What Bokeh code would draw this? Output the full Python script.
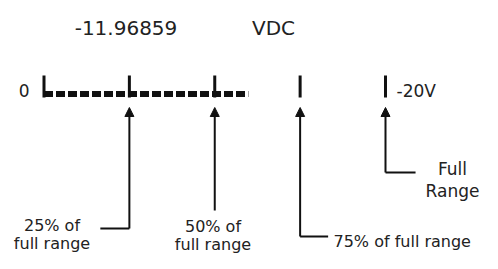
from bokeh.plotting import figure
from bokeh.models import ColumnDataSource, Range1d, Arrow, NormalHead
from bokeh.core.properties import value
from bokeh.embed import file_html
from bokeh.resources import INLINE

# ---- data ----
reading = -11.96859
unit = "VDC"
full_scale = -20.0
zero_label = "0"
full_label = "-20V"
mark_pct = [0, 25, 50, 75, 100]
callout_pct = [25, 50, 75, 100]
callout_line1 = ["25% of", "50% of", "75% of full range", "Full"]
callout_line2 = ["full range", "full range", "", "Range"]

# ---- layout (pixels / styles) ----
W, H = 482, 253
PX = 3.415            # pixels per percent
X0 = 43.5             # pixels from left edge to 0 %
FONT = value("DejaVu Sans")
TXT = "#222222"
INK = "#111111"

def sx(px):
    """pixel x -> percent coordinate"""
    return (px - X0) / PX

p = figure(width=W, height=H, output_backend="svg", toolbar_location=None,
           x_range=Range1d(-X0 / PX, (W - X0) / PX), y_range=Range1d(H, 0),
           x_axis_type=None, y_axis_type=None, min_border=0)
p.outline_line_color = None
p.xgrid.visible = False
p.ygrid.visible = False
p.background_fill_color = "white"
p.border_fill_color = "white"

bar_end = reading / full_scale * 100

# bar (dashed) and marks
p.segment(x0=[mark_pct[0]], x1=[bar_end], y0=[93.5], y1=[93.5],
          line_width=6, line_dash="9 3", line_color=INK, line_cap="butt")
p.segment(x0=mark_pct, x1=mark_pct, y0=[75] * len(mark_pct), y1=[97] * len(mark_pct),
          line_width=3, line_color=INK)

# reading text
p.text(x=[sx(125.5)], y=[27], text=[f"{reading:.5f}"], text_font=FONT,
       text_font_size="20px", text_align="center", text_baseline="alphabetic", text_color=TXT)
p.text(x=[sx(273)], y=[27], text=[unit], text_font=FONT,
       text_font_size="20px", text_align="center", text_baseline="alphabetic", text_color=TXT)

# scale end labels
p.text(x=[sx(29)], y=[90], text=[zero_label], text_font=FONT, text_font_size="17px",
       text_align="right", text_baseline="alphabetic", text_color=TXT)
p.text(x=[sx(396)], y=[90], text=[full_label], text_font=FONT, text_font_size="17px",
       text_align="left", text_baseline="alphabetic", text_color=TXT)

# callout arrows
bottoms = [228, 210, 236, 172]
elbow = [-8.5, 0, 8.2, 8.8]
src = ColumnDataSource(dict(x=callout_pct, yb=bottoms, yt=[107] * len(callout_pct)))
p.add_layout(Arrow(end=NormalHead(size=9, fill_color=INK, line_color=INK),
                   x_start="x", y_start="yb", x_end="x", y_end="yt", source=src,
                   line_width=2, line_color=INK))
p.segment(x0=callout_pct, x1=[c + e for c, e in zip(callout_pct, elbow)],
          y0=bottoms, y1=bottoms, line_width=2, line_color=INK)

# callout labels
lx = [sx(51.5), sx(212.5), sx(333), sx(452)]
align = ["center", "center", "left", "center"]
sizes = ["16px", "16px", "16px", "17px"]
y1 = [225, 226, 241, 168]
y2 = [243, 244, 0, 190]
for i in range(len(callout_pct)):
    p.text(x=[lx[i]], y=[y1[i]], text=[callout_line1[i]], text_font=FONT,
           text_font_size=sizes[i], text_align=align[i], text_baseline="alphabetic",
           text_color=TXT)
    if callout_line2[i]:
        p.text(x=[lx[i]], y=[y2[i]], text=[callout_line2[i]], text_font=FONT,
               text_font_size=sizes[i], text_align=align[i], text_baseline="alphabetic",
               text_color=TXT)

open("out.html", "w").write(file_html(p, INLINE))
